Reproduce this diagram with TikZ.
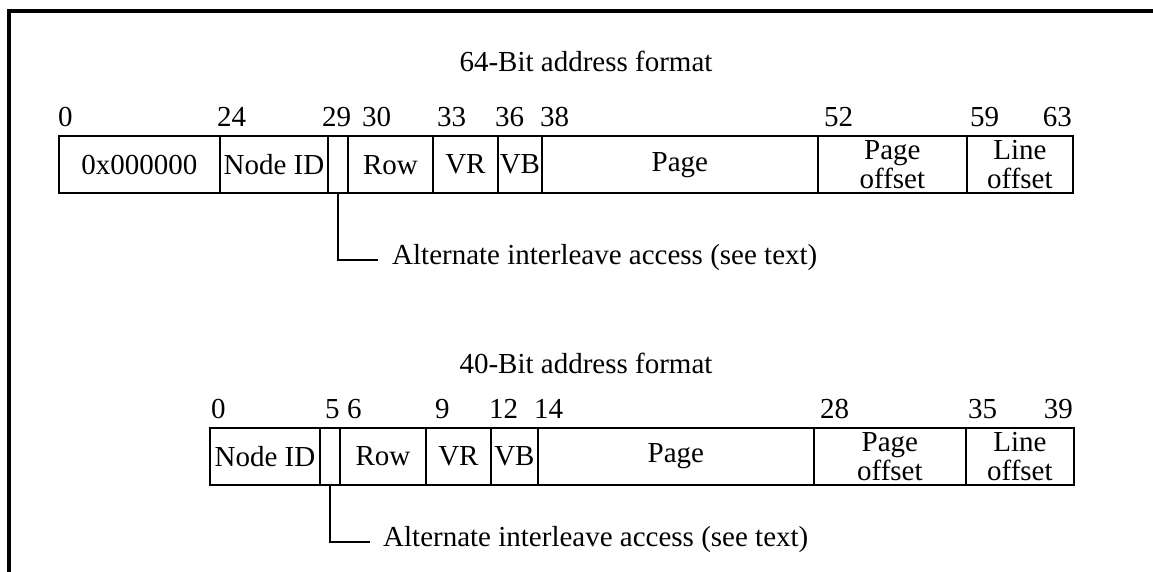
\documentclass[tikz,border=0pt]{standalone}
\usepackage{fontspec}
\setmainfont{Liberation Serif}
\begin{document}
\begin{tikzpicture}[x=1pt,y=-1pt,
  every node/.style={font=\fontsize{29}{29}\selectfont, inner sep=0pt},
  cell/.style={draw, line width=1.8, anchor=north west, align=center},
  num/.style={anchor=base west},
  lead/.style={line width=1.6}]
\useasboundingbox (0,0) rectangle (1153,572);
\fill[white] (0,0) rectangle (1153,572);
% frame
\draw[line width=3.2] (1153,11) -- (9,11) -- (9,572);
% ---------- 64-bit ----------
\node[anchor=base] (t1) at (586,72) {64-Bit address format};
\node[cell, minimum width=161, minimum height=57.5] (a1) at (58,135) {0x000000};
\node[cell, minimum width=108, minimum height=57.5] (a2) at (219,135) {Node ID};
\node[cell, minimum width=20,  minimum height=57.5] (a3) at (327,135) {};
\node[cell, minimum width=85,  minimum height=57.5] (a4) at (347,135) {Row};
\node[cell, minimum width=65,  minimum height=57.5] (a5) at (432,135) {VR};
\node[cell, minimum width=44,  minimum height=57.5] (a6) at (497,135) {VB};
\node[cell, minimum width=276, minimum height=57.5] (a7) at (541,135) {Page};
\node[cell, minimum width=149, minimum height=57.5] (a8) at (817,135) {Page\\offset};
\node[cell, minimum width=106, minimum height=57.5] (a9) at (966,135) {Line\\offset};
\node[num] (n0)  at (58,127)  {0};
\node[num] (n24) at (217,127) {24};
\node[num] (n29) at (322,127) {29};
\node[num] (n30) at (362,127) {30};
\node[num] (n33) at (437,127) {33};
\node[num] (n36) at (495,127) {36};
\node[num] (n38) at (540,127) {38};
\node[num] (n52) at (824,127) {52};
\node[num] (n59) at (970,127) {59};
\node[anchor=base east] (n63) at (1072,127) {63};
\coordinate (e1) at (378,260);
\draw[lead] (a3.south) |- (e1);
\node[anchor=base west] (l1) at (392,264) {Alternate interleave access (see text)};
% ---------- 40-bit ----------
\node[anchor=base] (t2) at (586,373) {40-Bit address format};
\node[cell, minimum width=110, minimum height=57] (b1) at (209,427) {Node ID};
\node[cell, minimum width=20,  minimum height=57] (b2) at (319,427) {};
\node[cell, minimum width=86,  minimum height=57] (b3) at (339,427) {Row};
\node[cell, minimum width=65,  minimum height=57] (b4) at (425,427) {VR};
\node[cell, minimum width=47,  minimum height=57] (b5) at (490,427) {VB};
\node[cell, minimum width=276, minimum height=57] (b6) at (537,427) {Page};
\node[cell, minimum width=152, minimum height=57] (b7) at (813,427) {Page\\offset};
\node[cell, minimum width=108, minimum height=57] (b8) at (965,427) {Line\\offset};
\node[num] (m0)  at (211,418) {0};
\node[num] (m5)  at (325,418) {5};
\node[num] (m6)  at (347,418) {6};
\node[num] (m9)  at (435,418) {9};
\node[num] (m12) at (489,418) {12};
\node[num] (m14) at (534,418) {14};
\node[num] (m28) at (820,418) {28};
\node[num] (m35) at (968,418) {35};
\node[anchor=base east] (m39) at (1073,418) {39};
\coordinate (e2) at (370,542);
\draw[lead] (b2.south) |- (e2);
\node[anchor=base west] (l2) at (383,546) {Alternate interleave access (see text)};
\end{tikzpicture}
\end{document}
